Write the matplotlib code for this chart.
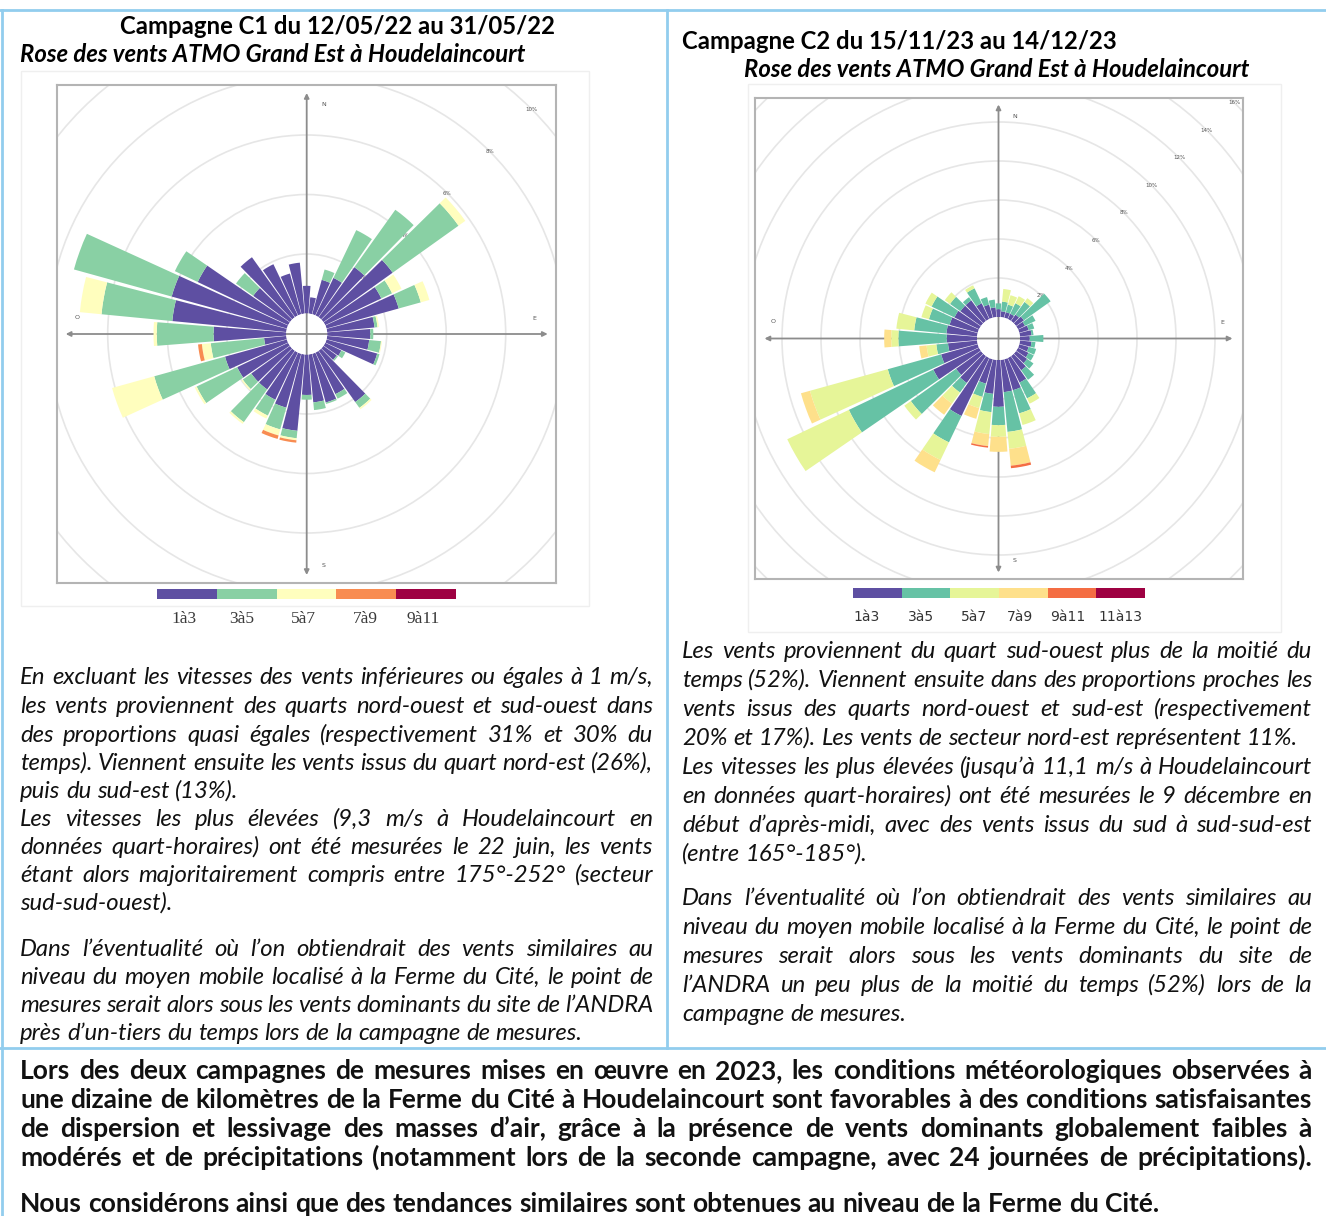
import numpy as np
import matplotlib
matplotlib.use('Agg')
import matplotlib.pyplot as plt
from matplotlib.patches import Circle, Rectangle
from matplotlib.lines import Line2D

W, H = 1326, 1216
DIRS = np.arange(0, 360, 10)

# Campagne C1 : frequences (%) par secteur de 10 deg et par classe de vitesse
c1_labels = ['1à3', '3à5', '5à7', '7à9', '9à11']
c1_1a3 = [0.93, 0.55, 1.20, 1.40, 2.07, 2.86, 2.09, 2.52, 1.60, 1.45, 1.42, 1.77,
          0.60, 0.55, 2.12, 1.55, 1.70, 1.62, 1.36, 2.58, 1.88, 1.76, 1.60, 1.60,
          1.90, 2.16, 0.75, 2.44, 3.85, 4.02, 3.37, 1.52, 2.48, 1.91, 1.42, 1.72]
c1_3a5 = [0, 0, 0.36, 1.78, 2.37, 2.72, 0.40, 0.77, 0.10, 0.10, 0.40, 0.08,
          0.15, 0.05, 0.24, 0.17, 0.05, 0.26, 0.16, 0.25, 0.76, 0.59, 1.35, 0.35,
          1.51, 2.47, 1.80, 1.91, 2.39, 3.41, 0.85, 0.71, 0, 0, 0, 0]
c1_5a7 = [0, 0, 0, 0, 0, 0.28, 0.35, 0.30, 0.05, 0, 0.03, 0,
          0, 0, 0.06, 0, 0, 0, 0, 0.07, 0.21, 0.11, 0.07, 0.05,
          0.07, 1.47, 0.30, 0.11, 0.73, 0, 0, 0, 0, 0, 0, 0]
c1_7a9 = [0, 0, 0, 0, 0, 0, 0, 0, 0, 0, 0, 0,
          0, 0, 0, 0, 0, 0, 0, 0.08, 0.12, 0, 0, 0,
          0, 0, 0.13, 0, 0, 0, 0, 0, 0, 0, 0, 0]
c1_rings = [2, 4, 6, 8, 10]

# Campagne C2
c2_labels = ['1à3', '3à5', '5à7', '7à9', '9à11', '11à13']
c2_1a3 = [0.40, 0.30, 0.30, 0.30, 0.40, 0.50, 0.40, 0.50, 0.60, 0.50, 0.60, 0.50,
          0.60, 0.70, 0.90, 1.40, 1.65, 1.66, 2.40, 1.75, 1.30, 3.30, 1.70, 1.57,
          2.60, 1.95, 1.50, 1.55, 1.58, 1.50, 1.40, 1.30, 1.30, 0.90, 0.70, 0.50]
c2_3a5 = [0.30, 0.50, 0.40, 0.60, 0.80, 1.68, 0.60, 0.30, 0.10, 0.70, 0.20, 0.40,
          0.30, 0.40, 0.60, 0.90, 1.23, 2.05, 0.94, 0.94, 0.70, 1.50, 0.60, 2.85,
          4.80, 2.84, 0.60, 2.48, 1.66, 1.10, 1.30, 0.65, 0.20, 0.85, 0.40, 0.40]
c2_5a7 = [0, 0.65, 0.50, 0.40, 0.24, 0, 0, 0, 0, 0, 0, 0,
          0, 0, 0, 0.30, 0.62, 0.87, 0.60, 1.13, 0.60, 1.00, 0.70, 0.41,
          3.50, 4.14, 0.50, 0.37, 0.92, 0.40, 0.35, 0.33, 0, 0.17, 0, 0]
c2_7a9 = [0, 0, 0, 0, 0, 0, 0, 0, 0, 0, 0, 0,
          0, 0, 0, 0, 0, 0.87, 0.77, 0.62, 0.57, 0.70, 0.70, 0,
          0, 0.48, 0.38, 0.36, 0, 0, 0, 0, 0, 0, 0, 0]
c2_9a11 = [0, 0, 0, 0, 0, 0, 0, 0, 0, 0, 0, 0,
           0, 0, 0, 0, 0, 0.13, 0, 0.08, 0, 0, 0, 0,
           0, 0, 0, 0, 0, 0, 0, 0, 0, 0, 0, 0]
c2_rings = [2, 4, 6, 8, 10, 12, 14, 16]

c1_header = 'Campagne C1 du 12/05/22 au 31/05/22'
c2_header = 'Campagne C2 du 15/11/23 au 14/12/23'
rose_title = 'Rose des vents ATMO Grand Est à Houdelaincourt'

c1_text = [
    'En excluant les vitesses des vents inférieures ou égales à 1 m/s,',
    'les vents proviennent des quarts nord-ouest et sud-ouest dans',
    'des proportions quasi égales (respectivement 31% et 30% du',
    'temps). Viennent ensuite les vents issus du quart nord-est (26%),',
    'puis du sud-est (13%).',
    'Les vitesses les plus élevées (9,3 m/s à Houdelaincourt en',
    'données quart-horaires) ont été mesurées le 22 juin, les vents',
    'étant alors majoritairement compris entre 175°-252° (secteur',
    'sud-sud-ouest).',
    'Dans l’éventualité où l’on obtiendrait des vents similaires au',
    'niveau du moyen mobile localisé à la Ferme du Cité, le point de',
    'mesures serait alors sous les vents dominants du site de l’ANDRA',
    'près d’un-tiers du temps lors de la campagne de mesures.',
]
c1_ys = [677, 706, 735, 763, 791, 819, 847, 875, 903, 949, 977, 1005, 1033]
c1_last = [4, 8, 12]

c2_text = [
    'Les vents proviennent du quart sud-ouest plus de la moitié du',
    'temps (52%). Viennent ensuite dans des proportions proches les',
    'vents issus des quarts nord-ouest et sud-est (respectivement',
    '20% et 17%). Les vents de secteur nord-est représentent 11%.',
    'Les vitesses les plus élevées (jusqu’à 11,1 m/s à Houdelaincourt',
    'en données quart-horaires) ont été mesurées le 9 décembre en',
    'début d’après-midi, avec des vents issus du sud à sud-sud-est',
    '(entre 165°-185°).',
    'Dans l’éventualité où l’on obtiendrait des vents similaires au',
    'niveau du moyen mobile localisé à la Ferme du Cité, le point de',
    'mesures serait alors sous les vents dominants du site de',
    'l’ANDRA un peu plus de la moitié du temps (52%) lors de la',
    'campagne de mesures.',
]
c2_ys = [651, 680, 709, 738, 767, 796, 825, 854, 898, 927, 956, 985, 1014]
c2_last = [3, 7, 12]

concl_text = [
    'Lors des deux campagnes de mesures mises en œuvre en 2023, les conditions météorologiques observées à',
    'une dizaine de kilomètres de la Ferme du Cité à Houdelaincourt sont favorables à des conditions satisfaisantes',
    'de dispersion et lessivage des masses d’air, grâce à la présence de vents dominants globalement faibles à',
    'modérés et de précipitations (notamment lors de la seconde campagne, avec 24 journées de précipitations).',
    'Nous considérons ainsi que des tendances similaires sont obtenues au niveau de la Ferme du Cité.',
]
concl_ys = [1072, 1101, 1130, 1159, 1205]
concl_last = [4]

FONT = 'Lato'
BORDER = '#92cdee'


def fx(x):
    return x / W


def fy(y):
    return 1 - y / H


def px_axes(fig, x0, y0, x1, y1, **kw):
    return fig.add_axes([fx(x0), fy(y1), (x1 - x0) / W, (y1 - y0) / H], **kw)


def wind_rose(fig, cx, cy, hw, hh, ppp, hole, series, colors, rings, arrow, labpos):
    ro = hole / ppp
    box = px_axes(fig, cx - hw, cy - hh, cx + hw, cy + hh)
    box.set_xlim(-hw / ppp, hw / ppp)
    box.set_ylim(-hh / ppp, hh / ppp)
    box.set_xticks([])
    box.set_yticks([])
    for s in box.spines.values():
        s.set_color('#b4b4b4')
        s.set_linewidth(1.5)
    for r in rings:
        box.add_patch(Circle((0, 0), r + ro, fill=False, ec='#e6e6e6', lw=1.2))
        d = (r + ro) / np.sqrt(2)
        box.text(d, d, f'{r}%', fontsize=4, color='#555555', ha='center', va='center')
    a = arrow / ppp
    for xy0, xy1 in [((-a, 0), (a, 0)), ((0, -a), (0, a))]:
        box.annotate('', xy=xy1, xytext=xy0,
                     arrowprops=dict(arrowstyle='<|-|>', color='#8c8c8c', lw=1.3,
                                     mutation_scale=7, shrinkA=0, shrinkB=0))
    for lab, (dx, dy) in labpos.items():
        box.text(dx / ppp, dy / ppp, lab, fontsize=4.5, color='#555555',
                 ha='center', va='center')

    # bars in a polar axes on top
    pol = px_axes(fig, cx - hw, cy - hw, cx + hw, cy + hw, projection='polar')
    pol.set_zorder(box.get_zorder() + 1)
    pol.set_theta_zero_location('N')
    pol.set_theta_direction(-1)
    pol.set_ylim(0, (hw - hole) / ppp)
    pol.set_rorigin(-ro)
    pol.axis('off')
    theta = np.radians(DIRS)
    bottom = np.zeros(len(DIRS))
    for vals, col in zip(series, colors):
        vals = np.array(vals)
        pol.bar(theta, vals, width=np.radians(10) * 0.9, bottom=bottom,
                color=col, linewidth=0)
        bottom += vals


def legend_strip(fig, x0, x1, y0, y1, colors, labels, lab_x, lab_y, **kw):
    ax = px_axes(fig, x0, y0, x1, y1)
    n = len(colors)
    ax.barh(0, np.ones(n), left=np.arange(n), height=1, color=colors, linewidth=0)
    ax.set_xlim(0, n)
    ax.set_ylim(-0.5, 0.5)
    ax.axis('off')
    for lab, x in zip(labels, lab_x):
        fig.text(fx(x), fy(lab_y), lab, ha='center', va='center', **kw)


def space_width(fig, rend, **kw):
    t1 = fig.text(0, 0, 'a a', **kw)
    t2 = fig.text(0, 0, 'aa', **kw)
    w = t1.get_window_extent(rend).width - t2.get_window_extent(rend).width
    t1.remove()
    t2.remove()
    return w


def paragraph(fig, rend, lines, ys, last, x0, x1, **kw):
    sp = space_width(fig, rend, **kw)
    for i, (line, y) in enumerate(zip(lines, ys)):
        words = line.split(' ')
        arts = [fig.text(fx(x0), fy(y + 7), w, ha='left', va='baseline', **kw)
                for w in words]
        widths = [t.get_window_extent(rend).width for t in arts]
        gap = sp
        if i not in last and len(words) > 1:
            gap = max((x1 - x0 - sum(widths)) / (len(words) - 1), sp * 0.3)
        x = x0
        for t, w in zip(arts, widths):
            t.set_x(fx(x))
            x += w + gap


fig = plt.figure(figsize=(W / 100, H / 100), dpi=100)
rend = fig.canvas.get_renderer()

# table borders
for xs, ys in [((0, W), (10, 10)), ((2, 2), (10, H)), ((667, 667), (10, 1048)),
               ((0, W), (1048, 1048))]:
    fig.add_artist(Line2D([fx(xs[0]), fx(xs[1])], [fy(ys[0]), fy(ys[1])],
                          transform=fig.transFigure, color=BORDER, lw=2))

# faint picture frames
for (x0, y0, x1, y1) in [(21, 71, 589, 606), (748, 84, 1281, 632)]:
    fig.add_artist(Rectangle((fx(x0), fy(y1)), (x1 - x0) / W, (y1 - y0) / H,
                             transform=fig.transFigure, fill=False,
                             ec='#efefef', lw=1))

c1_colors = plt.cm.Spectral_r(np.linspace(0, 1, 5))
c2_colors = plt.cm.Spectral_r(np.linspace(0, 1, 6))

wind_rose(fig, 306.7, 334, 249.5, 249, 29.75, 20.5,
          [c1_1a3, c1_3a5, c1_5a7, c1_7a9], c1_colors, c1_rings, 241,
          {'N': (17, 230), 'S': (17, -231), 'O': (-230, 17), 'E': (228, 16)})
wind_rose(fig, 998.5, 338.5, 244, 240.5, 19.5, 21.5,
          [c2_1a3, c2_3a5, c2_5a7, c2_7a9, c2_9a11], c2_colors, c2_rings, 234,
          {'N': (16.5, 221.5), 'S': (16.5, -221.5), 'O': (-225, 17), 'E': (224, 16.5)})

legend_strip(fig, 157, 456, 589, 599, c1_colors, c1_labels,
             [184, 242, 303, 365, 423], 619,
             family='Liberation Serif', fontsize=12.5, color='#3a3a3a')
legend_strip(fig, 853, 1145, 588, 598, c2_colors, c2_labels,
             [867, 921, 974, 1020, 1068, 1120], 617,
             family='DejaVu Sans', fontsize=10, color='#333333')

# headings
fig.text(fx(337), fy(34), c1_header, ha='center', va='baseline',
         family=FONT, weight='bold', fontsize=17.2)
fig.text(fx(20), fy(62), rose_title, ha='left', va='baseline',
         family=FONT, weight='bold', style='italic', fontsize=17.2)
fig.text(fx(682), fy(49), c2_header, ha='left', va='baseline',
         family=FONT, weight='bold', fontsize=17.2)
fig.text(fx(997), fy(77), rose_title, ha='center', va='baseline',
         family=FONT, weight='bold', style='italic', fontsize=17.2)

# texts
paragraph(fig, rend, c1_text, c1_ys, c1_last, 20, 653,
          family=FONT, style='italic', fontsize=17.2, color='#111111')
paragraph(fig, rend, c2_text, c2_ys, c2_last, 682, 1312,
          family=FONT, style='italic', fontsize=17.2, color='#111111')
paragraph(fig, rend, concl_text, concl_ys, concl_last, 20, 1312,
          family=FONT, weight='bold', fontsize=19, color='#111111')

fig.savefig('out.png', dpi=100)
